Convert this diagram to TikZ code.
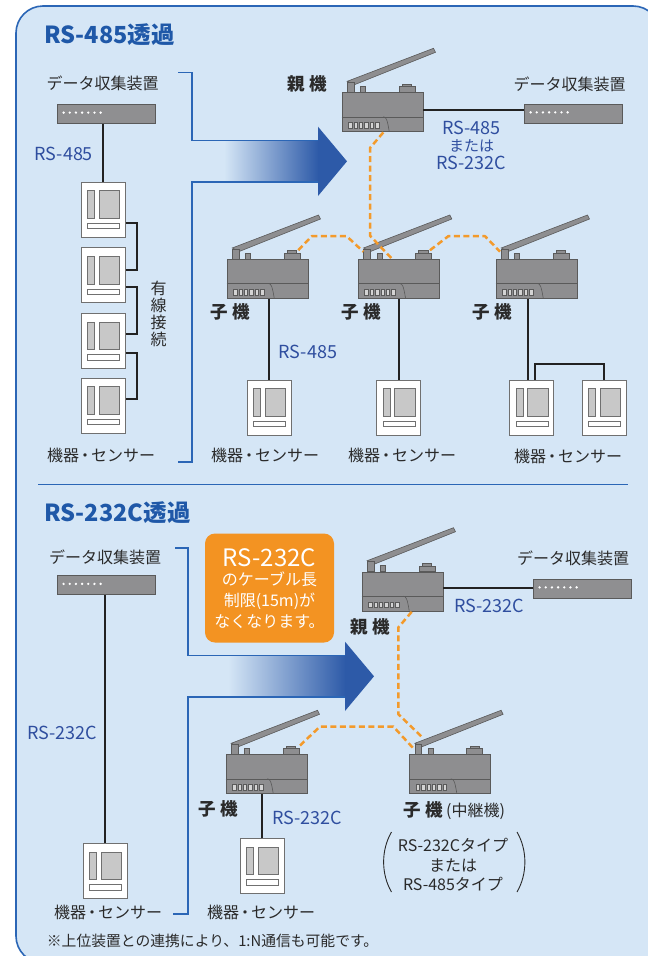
\documentclass[tikz,border=0pt]{standalone}
\usepackage{fontspec}
\setmainfont{Noto Sans CJK JP}
\usetikzlibrary{calc}

\definecolor{panelbg}{HTML}{D5E6F6}
\definecolor{panelline}{HTML}{2B66B6}
\definecolor{titleblue}{HTML}{1F58A8}
\definecolor{labelblue}{HTML}{2F4E9F}
\definecolor{arrowblue}{HTML}{2D5AA8}
\definecolor{unitfill}{HTML}{8E8E90}
\definecolor{unitedge}{HTML}{5A5A5A}
\definecolor{devfill}{HTML}{8F8F91}
\definecolor{ledfill}{HTML}{D4D4D4}
\definecolor{linkorange}{HTML}{F39A2B}
\definecolor{calloutorange}{HTML}{F39322}
\definecolor{textdark}{HTML}{2A2A2A}
\definecolor{wire}{HTML}{222222}
\definecolor{slotgray}{HTML}{C8C8C8}
\definecolor{sensoredge}{HTML}{707070}

% label text with a tightened middle dot
\newcommand{\devlabel}{機器\kern-2pt・\kern-2ptセンサー}

\tikzset{
  lbl/.style={inner sep=0pt, text=textdark, font=\fontsize{16}{18}\selectfont},
  bluelbl/.style={inner sep=0pt, text=labelblue, font=\fontsize{18}{20}\selectfont},
  unitlbl/.style={inner sep=0pt, text=textdark, font=\bfseries\fontsize{17.5}{19}\selectfont},
  titlelbl/.style={inner sep=0pt, anchor=west, text=titleblue, font=\bfseries\fontsize{23.5}{25}\selectfont},
  calloutlbl/.style={inner sep=0pt, text=white, font=\fontsize{16}{18}\selectfont},
  wireline/.style={draw=wire, line width=2pt},
  radiolink/.style={draw=linkorange, line width=2.5pt, dash pattern=on 6pt off 3.5pt, line join=round},
  bracketline/.style={draw=panelline, line width=1.3pt},
  parenline/.style={draw=textdark, line width=0.9pt},
  unitpart/.style={fill=unitfill, draw=unitedge, line width=0.6pt},
  unitbody/.style={unitpart, anchor=north west, inner sep=0pt, minimum width=81pt, minimum height=39pt},
  sensorbody/.style={fill=white, draw=sensoredge, line width=0.8pt, anchor=north west, inner sep=0pt, minimum width=44pt, minimum height=55pt},
  slot/.style={fill=slotgray, draw=sensoredge, line width=0.6pt},
  devbody/.style={fill=devfill, draw=unitedge, line width=0.8pt, anchor=north west, inner sep=0pt, minimum width=98pt, minimum height=19pt},
  callout/.style={fill=calloutorange, rounded corners=10pt, inner sep=0pt, minimum width=129pt, minimum height=109pt},
  % wireless unit: housing with antenna, origin at the housing's top-left corner
  radio/.pic={
    \filldraw[unitpart] (5.5,-11) -- (91.8,-44) -- (93.8,-40) -- (12.5,-7.5) -- cycle;
    \filldraw[unitpart] (5.7,-10) rectangle (12.3,0);
    \filldraw[unitpart] (19,-6) rectangle (24,0);
    \filldraw[unitpart] (57.3,-5.7) rectangle (73.3,0);
    \filldraw[unitpart] (60.7,-8.5) rectangle (70,-5.7);
    \node[unitbody] (-b) at (0,0) {};
    \draw[unitedge, line width=0.6pt] (0,24.5) -- (81,24.5);
    \draw[unitedge, line width=0.6pt] (41.5,24.5) .. controls (44.5,24.5) and (45.5,27) .. (47.5,39);
    \foreach \i in {0,...,5}
      \filldraw[fill=ledfill, draw=unitedge, line width=0.5pt] ({6.7+5.4*\i},30.3) rectangle ++(3.4,5.7);
  },
  % field device / sensor, origin at its top-left corner
  sensor/.pic={
    \node[sensorbody] (-b) at (0,0) {};
    \filldraw[slot] (6.6,9) rectangle (13.6,36.6);
    \filldraw[slot] (18.3,9) rectangle (38.6,36.6);
    \filldraw[slot, fill=white] (6.6,41.6) rectangle (38.6,47);
  },
  % data collector, origin at its top-left corner
  datadev/.pic={
    \node[devbody] (-b) at (0,0) {};
    \foreach \i in {0,...,6}
      \fill[white] ({6.3+6.17*\i},8.9) circle (1.3);
  },
}

\begin{document}
\begin{tikzpicture}[x=1pt, y=-1pt]
\useasboundingbox (0,0) rectangle (648,956);
\clip (0,0) rectangle (648,956);

% background panel
\filldraw[fill=panelbg, draw=panelline, line width=1.6pt, rounded corners=27pt] (16,6) rectangle (660,963);
\draw[panelline, line width=0.9pt] (38,484) -- (628,484);

% ===================== RS-485 section =====================
\node[titlelbl] (title1) at (44,35) {RS-485透過};

% wired setup
\node[lbl] (dl1lbl) at (102.5,83) {データ収集装置};
\pic (dl1) at (57.3,103.7) {datadev};
\pic (s1) at (80.7,181.7) {sensor};
\pic (s2) at (80.7,247.3) {sensor};
\pic (s3) at (80.7,313) {sensor};
\pic (s4) at (80.7,377.5) {sensor};
\draw[wireline] (s1-b.north) -- (s1-b.north |- dl1-b.south);
\draw[wireline] ($(s1-b.north east)+(0,41.3)$) -- ++(11.7,0) |- ($(s2-b.north east)+(0,22.5)$);
\draw[wireline] ($(s2-b.north east)+(0,40)$) -- ++(11.7,0) |- ($(s3-b.north east)+(0,21)$);
\draw[wireline] ($(s3-b.north east)+(0,40)$) -- ++(11.7,0) |- ($(s4-b.north east)+(0,21)$);
\node[bluelbl] (rs485a) at (63.8,154) {RS-485};
\node[lbl, align=center, font=\fontsize{16}{17}\selectfont] (wired) at (158.5,313.5) {有\\線\\接\\続};
\node[lbl] (s4lbl) at (101,455) {\devlabel};

% transition arrow
\shade[left color=panelbg, right color=arrowblue] (224,140.7) rectangle (318.5,182);
\fill[arrowblue] (318,126.7) -- (347,161.3) -- (318,196) -- cycle;
\draw[bracketline] (178,72.7) -- (192,72.7) -- (192,140.7) -- (318.3,140.7);
\draw[bracketline] (318.3,182) -- (192,182) -- (192,462) -- (178,462);

% wireless setup
\pic (p1) at (341.7,92.3) {radio};
\pic (c1) at (226.7,259) {radio};
\pic (c2) at (358,259) {radio};
\pic (c3) at (495.7,259) {radio};
\pic (dr1) at (524.3,103.5) {datadev};
\node[unitlbl] (p1lbl) at (307,84) {親\hspace{5pt}機};
\node[lbl] (dr1lbl) at (569.7,84) {データ収集装置};
\draw[wireline] ($(p1-b.north east)+(0,17.7)$) coordinate (j1) -- (j1 -| dr1-b.west);
\node[bluelbl] (ifa) at (471.5,128) {RS-485};
\node[bluelbl, font=\fontsize{15}{17}\selectfont] (ifb) at (471.5,146) {または};
\node[bluelbl] (ifc) at (471.5,163) {RS-232C};

\draw[radiolink] ($(p1-b.south west)+(41.6,0.5)$) -- ++(-13.3,15.6) -- ++(0,87.7) -- ($(c2-b.north west)+(33.7,-0.5)$);
\draw[radiolink] ($(c1-b.north west)+(71.6,-8.8)$) -- ++(13.4,-14) -- ++(35,0) -- ($(c2-b.north west)+(5.3,-7.3)$);
\draw[radiolink] ($(c2-b.north west)+(72,-8.8)$) -- ++(18.3,-14) -- ++(36.7,0) -- ($(c3-b.north west)+(4.3,-7.3)$);

\node[unitlbl] (c1lbl) at (230,312) {子\hspace{5pt}機};
\node[unitlbl] (c2lbl) at (361,312) {子\hspace{5pt}機};
\node[unitlbl] (c3lbl) at (492,312) {子\hspace{5pt}機};

\pic (sA) at (247,379.5) {sensor};
\pic (sB) at (376.3,379.5) {sensor};
\pic (sC) at (509.3,379.5) {sensor};
\pic (sD) at (581.7,379.5) {sensor};
\draw[wireline] (sA-b.north) -- (sA-b.north |- c1-b.south);
\draw[wireline] (sB-b.north) -- (sB-b.north |- c2-b.south);
\draw[wireline] ($(sC-b.north west)+(19,0)$) coordinate (j2) -- (j2 |- c3-b.south);
\draw[wireline] ($(sC-b.north west)+(25.7,0)$) -- ++(0,-16) -| (sD-b.north);
\node[bluelbl] (rs485b) at (308,352) {RS-485};
\node[lbl] (sAlbl) at (265,455) {\devlabel};
\node[lbl] (sBlbl) at (402,455) {\devlabel};
\node[lbl] (sClbl) at (568,456) {\devlabel};

% ===================== RS-232C section =====================
\node[titlelbl] (title2) at (44,513) {RS-232C透過};

\node[lbl] (dl2lbl) at (105,557) {データ収集装置};
\pic (dl2) at (57.3,575) {datadev};
\pic (sE) at (83,843) {sensor};
\draw[wireline] (sE-b.north) -- (sE-b.north |- dl2-b.south);
\node[bluelbl] (rs232a) at (62.5,733) {RS-232C};
\node[lbl] (sElbl) at (108,912) {\devlabel};

% transition arrow
\shade[left color=panelbg, right color=arrowblue] (228,655.7) rectangle (345.5,697);
\fill[arrowblue] (345,641.7) -- (374,676.3) -- (345,711) -- cycle;
\draw[bracketline] (175,548) -- (188,548) -- (188,655.7) -- (345.3,655.7);
\draw[bracketline] (345.3,697) -- (188,697) -- (188,914) -- (173,914);

% callout
\node[callout] (co) at (269.5,588) {};
\node[calloutlbl, font=\fontsize{24}{26}\selectfont] (co1) at (269.5,557.7) {RS-232C};
\node[calloutlbl] (co2) at (269.5,579) {のケーブル長};
\node[calloutlbl] (co3) at (269.5,601) {制限(15m)が};
\node[calloutlbl] (co4) at (269.5,622) {なくなります。};

% wireless setup
\pic (p2) at (361.7,571.7) {radio};
\pic (dr2) at (533.3,578.5) {datadev};
\node[lbl] (dr2lbl) at (573,558) {データ収集装置};
\draw[wireline] (dr2-b.west) -- (dr2-b.west -| p2-b.east);
\node[bluelbl] (rs232b) at (489.5,606) {RS-232C};
\node[unitlbl] (p2lbl) at (370.5,627) {親\hspace{5pt}機};

\pic (c4) at (225.7,754.3) {radio};
\pic (c5) at (409.3,754.3) {radio};
\draw[radiolink] ($(p2-b.south west)+(50,0.5)$) -- ++(-13.4,15.7) -- ++(0,86.6) -- ($(c5-b.north west)+(12.4,-17.6)$);
\draw[radiolink] ($(c4-b.north west)+(74.3,-8.8)$) -- ++(20,-19) -- ++(73.3,0) -- ($(c5-b.north west)+(4,-6)$);

\node[unitlbl] (c4lbl) at (218,809) {子\hspace{5pt}機};
\node[inner sep=0pt, anchor=west, text=textdark] (c5lbl) at (403,811)
  {{\bfseries\fontsize{17.5}{19}\selectfont 子\hspace{5pt}機}\hspace{3pt}{\fontsize{16}{18}\selectfont (中継機)}};

\pic (sF) at (239.7,838) {sensor};
\draw[wireline] (sF-b.north) -- (sF-b.north |- c4-b.south);
\node[bluelbl] (rs232c) at (307,818) {RS-232C};
\node[lbl] (sFlbl) at (261,912) {\devlabel};

% relay unit variants
\node[lbl] (v1) at (453,845) {RS-232Cタイプ};
\node[lbl] (v2) at (453,865) {または};
\node[lbl] (v3) at (453,884) {RS-485タイプ};
\draw[parenline] (391.5,832) .. controls (381,850) and (381,874) .. (391.5,892);
\draw[parenline] (517,832) .. controls (527.5,850) and (527.5,874) .. (517,892);

% footnote
\node[lbl, anchor=west, font=\fontsize{14.8}{16}\selectfont] (note) at (46.7,941) {※上位装置との連携により、1:N通信も可能です。};
\end{tikzpicture}
\end{document}
